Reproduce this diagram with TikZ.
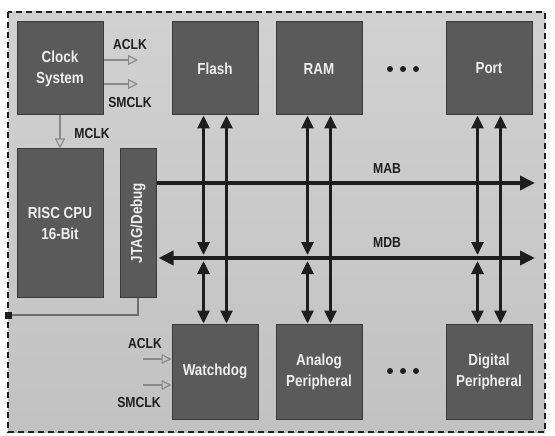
\documentclass[tikz,border=0pt]{standalone}
\usepackage{fontspec}
\usepackage{graphicx}
\setmainfont{Liberation Sans}[FakeStretch=0.84]
\usetikzlibrary{arrows.meta,positioning,calc}
\definecolor{boxfill}{HTML}{5A5A5A}
\definecolor{boxline}{HTML}{3A3A3A}
\definecolor{boxtext}{HTML}{EEEEEE}
\definecolor{wire}{HTML}{1E1E1E}
\definecolor{clkline}{HTML}{8A8A8A}
\tikzset{
  box/.style={draw=boxline, line width=1pt, fill=boxfill, text=boxtext,
    font=\fontsize{16}{21}\selectfont\bfseries, align=center,
    minimum width=86pt, minimum height=93pt, inner sep=1pt},
  lab/.style={font=\fontsize{14.5}{16}\selectfont\bfseries, text=wire, inner sep=0pt},
  vbus/.style={{Triangle[length=13pt,width=12pt]}-{Triangle[length=13pt,width=12pt]},
    line width=3pt, draw=wire},
  hbus/.style={line width=4pt, draw=wire},
  htip/.style={-{Triangle[length=15pt,width=14pt]}},
  htips/.style={{Triangle[length=15pt,width=14pt]}-{Triangle[length=15pt,width=14pt]}},
  clk/.style={-{Triangle[open,length=10pt,width=10pt]}, line width=1.2pt, draw=clkline},
  jline/.style={line width=1.5pt, draw=clkline!80!black},
  sq/.style={fill=wire, minimum size=7pt, inner sep=0pt},
  border/.style={draw=wire, line width=2.5pt, dash pattern=on 6pt off 4pt},
}
\begin{document}
\begin{tikzpicture}[x=1pt, y=-1pt]
\useasboundingbox (0,0) rectangle (555,436);
\fill[white] (0,0) rectangle (555,436);
\shade[top color=black!18, middle color=black!3, bottom color=black!24] (8,12) rectangle (545,432);
\draw[border] (8,12) rectangle (545,432);

% top row
\node[box] (clock) at (60,68.5) {Clock\\System};
\node[box, right=68pt of clock] (flash) {Flash};
\node[box, right=17pt of flash] (ram) {RAM};
\node[box, right=83pt of ram] (port) {Port};

% cpu and debug
\node[box, below=33pt of clock, minimum height=148pt] (cpu) {RISC CPU\\16-Bit};
\node[box, right=16pt of cpu, minimum width=36pt, minimum height=148pt] (jtag) {\rotatebox{90}{JTAG/Debug}};

% bottom row
\node[box, below=208pt of flash, minimum height=95pt] (wdog) {Watchdog};
\node[box, below=208pt of ram, minimum height=95pt] (analog) {Analog\\Peripheral};
\node[box, below=208pt of port, minimum height=95pt] (digital) {Digital\\Peripheral};

% buses
\coordinate (mab) at (535,183);
\coordinate (mdb) at (535,258);
\draw[hbus, htip] (jtag.east |- mab) -- (mab);
\draw[hbus, htips] ([xshift=2pt]jtag.east |- mdb) -- (mdb);
\node[lab] (mablab) at (387,169) {MAB};
\node[lab] (mdblab) at (387,243) {MDB};

\foreach \t/\b in {flash/wdog, ram/analog, port/digital} {
  \draw[vbus] ([xshift=-11.5pt]\t.south) -- ([xshift=-11.5pt, yshift=3pt]\t.south |- mdb);
  \draw[vbus] ([xshift=-11.5pt, yshift=-3pt]\b.north |- mdb) -- ([xshift=-11.5pt]\b.north);
  \draw[vbus] ([xshift=11.5pt]\t.south) -- ([xshift=11.5pt]\b.north);
}

% clocks
\coordinate (ca) at (138,60);
\coordinate (cs) at (138,84);
\draw[clk] (clock.east |- ca) -- (ca);
\draw[clk] (clock.east |- cs) -- (cs);
\draw[clk] (clock.south) -- (cpu.north);
\node[lab] (aclk) at (130,45) {ACLK};
\node[lab] (smclk) at (130,103) {SMCLK};
\node[lab] (mclk) at (92,134) {MCLK};

\coordinate (wa) at (143,359);
\coordinate (ws) at (143,385);
\draw[clk] (wa) -- (wa -| wdog.west);
\draw[clk] (ws) -- (ws -| wdog.west);
\node[lab] (wdaclk) at (145,344) {ACLK};
\node[lab] (wdsmclk) at (139,403) {SMCLK};

% debug link
\node[sq] (jsq) at (8,315) {};
\draw[jline] (jtag.south) |- (jsq);

% more blocks
\foreach \y in {69,371}
  \foreach \x in {390,403,416}
    \fill[wire] (\x,\y) circle (3pt);

\end{tikzpicture}
\end{document}
